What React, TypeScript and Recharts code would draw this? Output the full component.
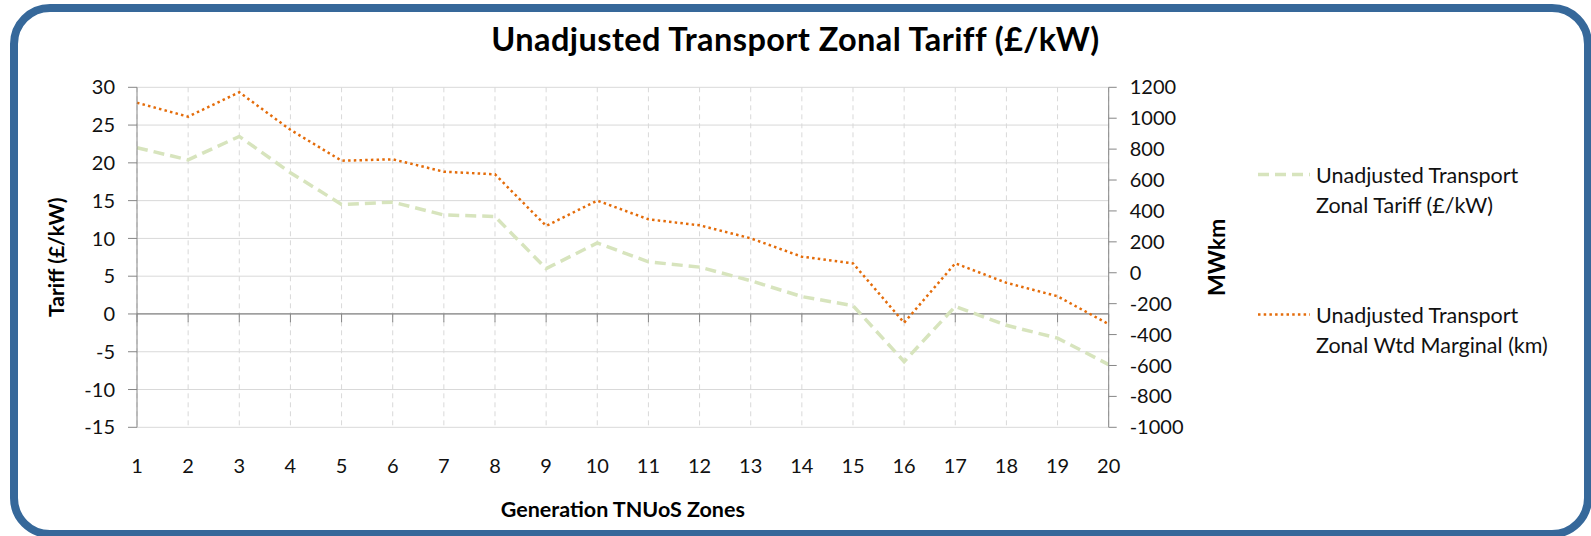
import { LineChart, Line, XAxis, YAxis, CartesianGrid, Legend, ReferenceLine } from "recharts";

const zones = [1, 2, 3, 4, 5, 6, 7, 8, 9, 10, 11, 12, 13, 14, 15, 16, 17, 18, 19, 20];
const tariff = [22.0, 20.4, 23.5, 18.7, 14.5, 14.8, 13.1, 12.9, 6.0, 9.4, 6.9, 6.2, 4.4, 2.3, 1.1, -6.3, 1.0, -1.5, -3.2, -6.7];
const marginal = [1100, 1010, 1168, 925, 725, 734, 654, 637, 303, 467, 346, 307, 223, 104, 61, -323, 61, -65, -152, -333];

const leftTicks = [-15, -10, -5, 0, 5, 10, 15, 20, 25, 30];
const rightTicks = [-1000, -800, -600, -400, -200, 0, 200, 400, 600, 800, 1000, 1200];

const data = zones.map((z, i) => ({ zone: z, tariff: tariff[i], marginal: marginal[i] }));

const FONT = "Lato, 'Open Sans', sans-serif";
const AXIS_GREY = "#868686";

const renderLegend = (props: any) => {
  const { payload } = props;
  return (
    <div style={{ fontFamily: FONT, fontSize: 21.5, color: "#111" }}>
      {payload.map((entry: any, i: number) => (
        <div key={i} style={{ display: "flex", alignItems: "flex-start", marginBottom: i === 0 ? 80 : 0 }}>
          <svg width={52} height={29} style={{ marginRight: 6, flexShrink: 0 }}>
            <line
              x1={0}
              x2={52}
              y1={14.5}
              y2={14.5}
              stroke={entry.color}
              strokeWidth={entry.payload.strokeWidth}
              strokeDasharray={entry.payload.strokeDasharray}
            />
          </svg>
          <div style={{ width: 260, lineHeight: "30px" }}>{entry.value}</div>
        </div>
      ))}
    </div>
  );
};

export default function App() {
  return (
    <div style={{ position: "absolute", left: 0, top: 0, width: 1591, height: 536, background: "#fff", overflow: "hidden" }}>
      {/* rounded frame */}
      <div
        style={{
          position: "absolute",
          left: 10,
          top: 4,
          width: 1582,
          height: 534,
          border: "8px solid #36689a",
          borderRadius: 40,
          boxSizing: "border-box",
        }}
      />
      <div
        style={{
          position: "absolute",
          left: 0,
          top: 20,
          width: 1591,
          textAlign: "center",
          fontFamily: FONT,
          fontWeight: 700,
          fontSize: 32.5,
          letterSpacing: 0.4,
          lineHeight: "38px",
          color: "#000",
        }}
      >
        Unadjusted Transport Zonal Tariff (£/kW)
      </div>
      <div style={{ position: "absolute", left: 0, top: 0 }}>
        <LineChart width={1591} height={536} data={data} margin={{ top: 87.3, right: 0, bottom: 0, left: 0 }} style={{ fontFamily: FONT }}>
          <CartesianGrid yAxisId="left" vertical={false} stroke="#d9d9d9" />
          <CartesianGrid yAxisId="left" horizontal={false} stroke="#d9d9d9" strokeDasharray="5 4" />
          <XAxis
            dataKey="zone"
            type="number"
            domain={[1, 20]}
            ticks={zones}
            interval={0}
            axisLine={false}
            tickLine={false}
            tickSize={0}
            tickMargin={31}
            height={108.7}
            tick={{ fontSize: 20, fill: "#111", fontFamily: FONT }}
            label={{
              value: "Generation TNUoS Zones",
              position: "insideBottom",
              offset: 19,
              style: { fontSize: 21.5, fontWeight: 700, fill: "#000", fontFamily: FONT },
            }}
          />
          <YAxis
            yAxisId="left"
            width={137}
            domain={[-15, 30]}
            ticks={leftTicks}
            interval={0}
            tickSize={9}
            tickMargin={13}
            axisLine={{ stroke: AXIS_GREY }}
            tickLine={{ stroke: AXIS_GREY }}
            tick={{ fontSize: 20, fill: "#111", fontFamily: FONT }}
            label={{
              value: "Tariff (£/kW)",
              angle: -90,
              position: "insideLeft",
              offset: 57,
              style: { textAnchor: "middle", fontSize: 21, fontWeight: 700, fill: "#000", fontFamily: FONT },
            }}
          />
          <YAxis
            yAxisId="right"
            orientation="right"
            width={482.3}
            domain={[-1000, 1200]}
            ticks={rightTicks}
            interval={0}
            tickSize={8}
            tickMargin={13}
            axisLine={{ stroke: AXIS_GREY }}
            tickLine={{ stroke: AXIS_GREY }}
            tick={{ fontSize: 20, fill: "#111", fontFamily: FONT }}
            label={{
              value: "MWkm",
              angle: -90,
              position: "insideLeft",
              offset: 108,
              style: { textAnchor: "middle", fontSize: 23, fontWeight: 700, fill: "#000", fontFamily: FONT },
            }}
          />
          <ReferenceLine yAxisId="left" y={0} stroke={AXIS_GREY} strokeWidth={1.2} />
          {zones.map((z) => (
            <ReferenceLine
              key={z}
              yAxisId="left"
              segment={[{ x: z, y: 0 }, { x: z, y: -1.1 }]}
              stroke={AXIS_GREY}
            />
          ))}
          <Legend
            layout="vertical"
            content={renderLegend}
            wrapperStyle={{ position: "absolute", left: 1258, top: 160, width: 330, height: 0, overflow: "visible" }}
          />
          <Line
            yAxisId="left"
            type="linear"
            dataKey="tariff"
            name="Unadjusted Transport Zonal Tariff (£/kW)"
            stroke="#d7e4bd"
            strokeWidth={3.5}
            strokeDasharray="11 6"
            dot={false}
            isAnimationActive={false}
          />
          <Line
            yAxisId="right"
            type="linear"
            dataKey="marginal"
            name="Unadjusted Transport Zonal Wtd Marginal (km)"
            stroke="#e46c0a"
            strokeWidth={2.5}
            strokeDasharray="2.5 3.2"
            dot={false}
            isAnimationActive={false}
          />
        </LineChart>
      </div>
    </div>
  );
}
